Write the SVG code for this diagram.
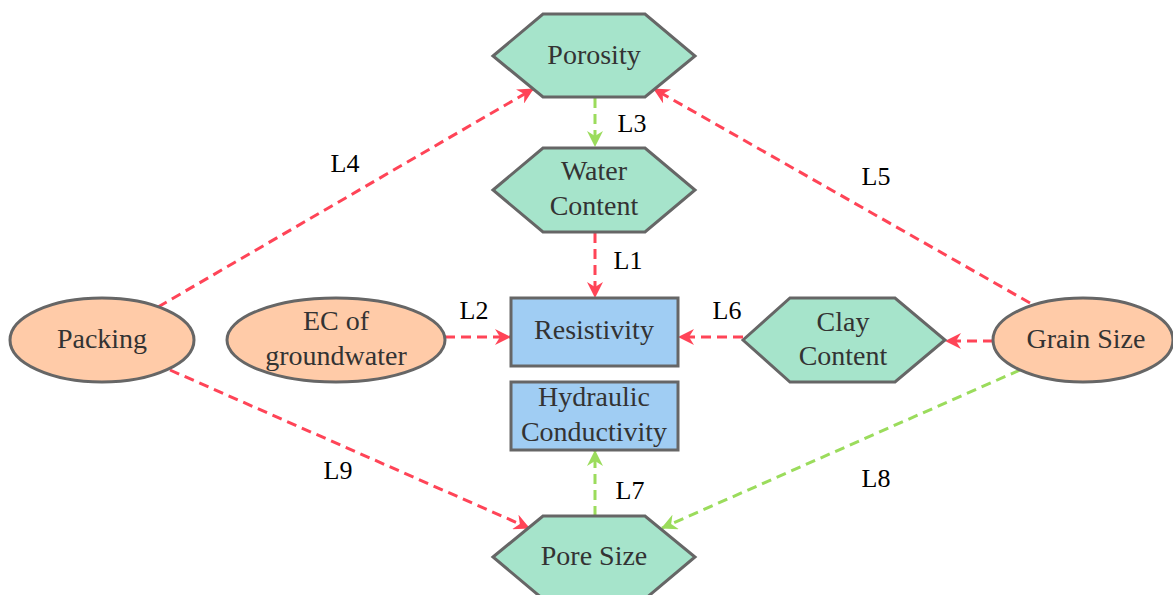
<svg xmlns="http://www.w3.org/2000/svg" width="1173" height="595" viewBox="0 0 1173 595">
<style>
.hex{fill:#A6E4CB;stroke:#666;stroke-width:3}
.box{fill:#A0CDF3;stroke:#666;stroke-width:3}
.ell{fill:#FFCBA8;stroke:#666;stroke-width:3}
.t{font-family:'Liberation Serif','Times New Roman','DejaVu Serif',serif;font-size:28px;fill:#333;text-anchor:middle}
.lb{font-family:'Liberation Serif','Times New Roman','DejaVu Serif',serif;font-size:26px;fill:#000;text-anchor:middle}
.r{stroke:#FF4457;stroke-width:3;stroke-dasharray:10 6;fill:none;marker-end:url(#ar)}
.g{stroke:#9BDC5C;stroke-width:3;stroke-dasharray:10 6;fill:none;marker-end:url(#ag)}
</style>
<defs>
<marker id="ar" viewBox="0 0 16 16" refX="15" refY="8" markerWidth="16" markerHeight="16" markerUnits="userSpaceOnUse" orient="auto">
<path d="M0,0 L16,8 L0,16 L5,8 z" fill="#FF4457"/>
</marker>
<marker id="ag" viewBox="0 0 16 16" refX="15" refY="8" markerWidth="16" markerHeight="16" markerUnits="userSpaceOnUse" orient="auto">
<path d="M0,0 L16,8 L0,16 L5,8 z" fill="#9BDC5C"/>
</marker>
</defs>
<rect width="1173" height="595" fill="#fff"/>
<g id="connectors">
<line class="g" x1="595" y1="98" x2="595" y2="146"/>
<line class="r" x1="595" y1="233" x2="595" y2="297"/>
<line class="r" x1="445" y1="337" x2="510" y2="337"/>
<line class="r" x1="743" y1="337" x2="679" y2="337"/>
<line class="r" x1="993" y1="341" x2="946" y2="341"/>
<line class="r" x1="158" y1="307" x2="533" y2="89"/>
<line class="r" x1="1030" y1="303" x2="654" y2="89"/>
<line class="r" x1="170" y1="370" x2="529" y2="528"/>
<line class="g" x1="1020" y1="370" x2="662" y2="528"/>
<line class="g" x1="595" y1="516" x2="595" y2="451"/>
</g>
<g id="labels">
<text class="lb" x="632" y="132">L3</text>
<text class="lb" x="628" y="269">L1</text>
<text class="lb" x="474" y="319">L2</text>
<text class="lb" x="727" y="319">L6</text>
<text class="lb" x="345" y="172">L4</text>
<text class="lb" x="876" y="185">L5</text>
<text class="lb" x="338" y="479">L9</text>
<text class="lb" x="876" y="487">L8</text>
<text class="lb" x="630" y="499">L7</text>
</g>
<g id="porosity">
<polygon class="hex" points="493,56 543,14 645,14 695,56 645,97 543,97"/>
<text class="t" x="594" y="64">Porosity</text>
</g>
<g id="water-content">
<polygon class="hex" points="493,190 543,148 645,148 695,190 645,232 543,232"/>
<text class="t" x="594" y="180">Water</text>
<text class="t" x="594" y="215">Content</text>
</g>
<g id="resistivity">
<rect class="box" x="511" y="298" width="167" height="68"/>
<text class="t" x="594" y="339">Resistivity</text>
</g>
<g id="hydraulic-conductivity">
<rect class="box" x="511" y="382" width="167" height="68"/>
<text class="t" x="594" y="406">Hydraulic</text>
<text class="t" x="594" y="441">Conductivity</text>
</g>
<g id="pore-size">
<polygon class="hex" points="493,557 543,516 645,516 695,557 645,599 543,599"/>
<text class="t" x="594" y="565">Pore Size</text>
</g>
<g id="clay-content">
<polygon class="hex" points="743,340 790,298 895,298 945,340 895,382 790,382"/>
<text class="t" x="843" y="331">Clay</text>
<text class="t" x="843" y="365">Content</text>
</g>
<g id="packing">
<ellipse class="ell" cx="102" cy="340" rx="92" ry="42"/>
<text class="t" x="102" y="348">Packing</text>
</g>
<g id="ec-groundwater">
<ellipse class="ell" cx="336" cy="340" rx="109" ry="42"/>
<text class="t" x="336" y="330">EC of</text>
<text class="t" x="336" y="365">groundwater</text>
</g>
<g id="grain-size">
<ellipse class="ell" cx="1083" cy="340" rx="90" ry="42"/>
<text class="t" x="1086" y="348">Grain Size</text>
</g>
</svg>
